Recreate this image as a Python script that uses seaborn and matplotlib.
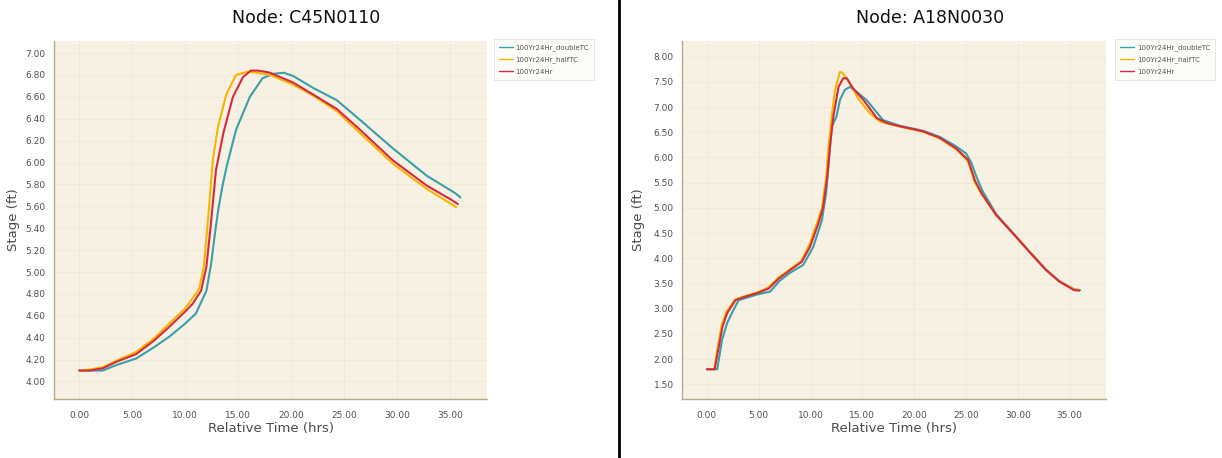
import numpy as np
import pandas as pd
import matplotlib
matplotlib.use("Agg")
import matplotlib.pyplot as plt
from matplotlib.ticker import MultipleLocator, FormatStrFormatter
import seaborn as sns

# ---------------- data ----------------
series_names = ["100Yr24Hr_doubleTC", "100Yr24Hr_halfTC", "100Yr24Hr"]
titles = ["Node: C45N0110", "Node: A18N0030"]

# Left chart (C45N0110)
c45_double_t = [0, 1.0, 2.2, 3.5, 5.36, 7.0, 8.5, 10.0, 11.0, 12.0, 12.45, 12.8, 13.1, 13.5, 13.9, 14.8,
                16.1, 17.3, 18.3, 19.3, 20.2, 22.1, 24.3, 26.5, 29.6, 32.8, 35.5, 36.0]
c45_double_v = [4.10, 4.10, 4.10, 4.15, 4.21, 4.31, 4.41, 4.53, 4.62, 4.83, 5.08, 5.35, 5.56, 5.78, 5.96, 6.30,
                6.60, 6.77, 6.81, 6.82, 6.79, 6.68, 6.57, 6.39, 6.13, 5.88, 5.72, 5.68]

c45_half_t = [0, 1.0, 2.2, 3.5, 5.36, 7.0, 8.5, 10.0, 11.0, 11.35, 11.75, 12.14, 12.6, 13.1, 13.9, 14.8,
              15.9, 16.8, 18.0, 20.2, 22.1, 24.3, 26.5, 29.6, 32.8, 35.3, 35.6]
c45_half_v = [4.10, 4.11, 4.13, 4.19, 4.27, 4.39, 4.53, 4.67, 4.80, 4.86, 5.05, 5.47, 6.02, 6.33, 6.63, 6.80,
              6.83, 6.82, 6.80, 6.71, 6.61, 6.47, 6.27, 5.99, 5.76, 5.61, 5.59]

c45_base_t = [0, 1.0, 2.2, 3.5, 5.36, 7.0, 8.5, 10.0, 10.7, 11.5, 12.0, 12.45, 12.9, 13.6, 14.5, 15.45,
              16.2, 16.8, 17.5, 18.0, 20.2, 22.1, 24.3, 26.5, 29.6, 32.8, 35.3, 35.75]
c45_base_v = [4.10, 4.10, 4.12, 4.18, 4.25, 4.37, 4.50, 4.64, 4.71, 4.83, 5.05, 5.47, 5.93, 6.27, 6.60, 6.78,
              6.84, 6.84, 6.83, 6.82, 6.73, 6.62, 6.49, 6.30, 6.02, 5.79, 5.65, 5.62]

# Right chart (A18N0030)
a18_double_t = [0, 1.0, 1.46, 1.94, 2.5, 3.06, 4.8, 6.1, 7.0, 8.0, 9.3, 10.27, 11.1, 11.5, 11.8, 12.04,
                12.5, 12.84, 13.3, 13.8, 14.4, 15.4, 16.2, 17.0, 18.6, 20.85, 22.45, 24.05, 25.0, 25.5,
                26.0, 26.6, 27.9, 29.5, 31.1, 32.7, 34.0, 35.4, 36.0]
a18_double_v = [1.80, 1.80, 2.38, 2.71, 2.95, 3.17, 3.28, 3.34, 3.55, 3.71, 3.87, 4.23, 4.76, 5.29, 6.00, 6.61,
                6.81, 7.14, 7.34, 7.40, 7.31, 7.14, 6.94, 6.74, 6.63, 6.53, 6.41, 6.22, 6.08, 5.90,
                5.62, 5.33, 4.88, 4.51, 4.14, 3.78, 3.55, 3.39, 3.37]

a18_half_t = [0, 0.7, 1.1, 1.45, 1.9, 2.7, 3.5, 4.8, 5.9, 6.9, 8.0, 9.1, 9.9, 10.7, 11.1, 11.5, 11.7,
              12.04, 12.36, 12.84, 13.15, 13.8, 14.6, 15.7, 16.7, 18.6, 20.85, 22.45, 24.05, 25.2, 25.8,
              26.46, 27.9, 29.5, 31.1, 32.7, 34.0, 35.4, 35.9]
a18_half_v = [1.80, 1.80, 2.30, 2.70, 2.95, 3.18, 3.24, 3.32, 3.42, 3.62, 3.78, 3.95, 4.28, 4.75, 5.00, 5.60, 6.15,
              6.81, 7.34, 7.70, 7.67, 7.47, 7.17, 6.88, 6.71, 6.61, 6.51, 6.38, 6.16, 5.92, 5.52,
              5.28, 4.86, 4.50, 4.13, 3.77, 3.54, 3.39, 3.36]

a18_base_t = [0, 0.75, 1.15, 1.5, 1.95, 2.75, 3.55, 4.85, 5.95, 6.95, 8.05, 9.15, 9.95, 10.75, 11.2, 11.6,
              11.9, 12.2, 12.7, 13.15, 13.5, 14.1, 15.1, 16.4, 17.4, 18.6, 20.85, 22.45, 24.05, 25.2,
              25.85, 26.5, 27.9, 29.5, 31.1, 32.7, 34.0, 35.4, 35.9]
a18_base_v = [1.80, 1.80, 2.25, 2.64, 2.91, 3.17, 3.23, 3.31, 3.40, 3.60, 3.77, 3.93, 4.23, 4.69, 5.00, 5.60,
              6.28, 6.81, 7.40, 7.57, 7.57, 7.37, 7.14, 6.78, 6.68, 6.62, 6.52, 6.39, 6.18, 5.95,
              5.55, 5.29, 4.86, 4.50, 4.13, 3.77, 3.54, 3.37, 3.36]

left_yticks = [4.0, 4.2, 4.4, 4.6, 4.8, 5.0, 5.2, 5.4, 5.6, 5.8, 6.0, 6.2, 6.4, 6.6, 6.8, 7.0]
right_yticks = [1.5, 2.0, 2.5, 3.0, 3.5, 4.0, 4.5, 5.0, 5.5, 6.0, 6.5, 7.0, 7.5, 8.0]
xticks = [0, 5, 10, 15, 20, 25, 30, 35]

palette = {"100Yr24Hr_doubleTC": "#3a9eab", "100Yr24Hr_halfTC": "#f7b500", "100Yr24Hr": "#d42b3f"}


def make_df(triples):
    frames = []
    for name, t, v in triples:
        frames.append(pd.DataFrame({"time": t, "stage": v, "run": name}))
    return pd.concat(frames, ignore_index=True)


df_left = make_df([(series_names[0], c45_double_t, c45_double_v),
                   (series_names[1], c45_half_t, c45_half_v),
                   (series_names[2], c45_base_t, c45_base_v)])
df_right = make_df([(series_names[0], a18_double_t, a18_double_v),
                    (series_names[1], a18_half_t, a18_half_v),
                    (series_names[2], a18_base_t, a18_base_v)])

sns.set_style("white")
plt.rcParams["font.family"] = ["DejaVu Sans"]

fig = plt.figure(figsize=(12.22, 4.58), dpi=100)
fig.patch.set_facecolor("white")

W, H = 1222.0, 458.0
ax1 = fig.add_axes([54 / W, 1 - 399 / H, (487 - 54) / W, (399 - 41) / H])
ax2 = fig.add_axes([682 / W, 1 - 399 / H, (1106 - 682) / W, (399 - 41) / H])

spine_col = "#b3ab86"
bg_col = "#f7f1e3"


def style(ax, df, ylim, yticks, yminor, legx, ylabelpad):
    ax.set_facecolor(bg_col)
    sns.lineplot(data=df, x="time", y="stage", hue="run", hue_order=series_names,
                 palette=palette, estimator=None, sort=False, linewidth=1.5, ax=ax)
    ax.set_xlim(-2.4, 38.5)
    ax.set_ylim(*ylim)
    ax.set_xticks(xticks)
    ax.set_yticks(yticks)
    ax.xaxis.set_minor_locator(MultipleLocator(1.0))
    ax.yaxis.set_minor_locator(MultipleLocator(yminor))
    ax.xaxis.set_major_formatter(FormatStrFormatter("%.2f"))
    ax.yaxis.set_major_formatter(FormatStrFormatter("%.2f"))
    for s in ["top", "right"]:
        ax.spines[s].set_visible(False)
    for s in ["left", "bottom"]:
        ax.spines[s].set_color(spine_col)
        ax.spines[s].set_linewidth(1.0)
    ax.tick_params(axis="both", which="major", direction="out", length=3, width=0.8,
                   color="#8f8f8f", labelsize=6.5, labelcolor="#505050", pad=3)
    ax.tick_params(axis="x", which="major", pad=6)
    ax.tick_params(axis="both", which="minor", direction="out", length=2, width=0.6,
                   color="#a8a8a8")
    ax.grid(True, which="major", color="#efe8d6", linewidth=0.6)
    ax.set_axisbelow(True)
    ax.set_xlabel("Relative Time (hrs)", fontsize=9.5, color="#4a4a4a", labelpad=1)
    ax.set_ylabel("Stage (ft)", fontsize=9.5, color="#4a4a4a", labelpad=ylabelpad)
    leg = ax.legend(loc="upper left", bbox_to_anchor=(legx, 1.005), fontsize=5,
                    frameon=True, fancybox=False, handlelength=2.0, handletextpad=0.4,
                    labelspacing=0.8, borderpad=0.7, borderaxespad=0.0, title=None)
    leg.get_frame().set_edgecolor("#dddddd")
    leg.get_frame().set_linewidth(0.6)
    leg.get_frame().set_facecolor("#fbfaf7")
    for txt in leg.get_texts():
        txt.set_color("#555555")
    for line in leg.get_lines():
        line.set_linewidth(1.0)


style(ax1, df_left, (3.84, 7.11), left_yticks, 0.05, 1.016, 4)
style(ax2, df_right, (1.21, 8.31), right_yticks, 0.1, 1.022, 6)

fig.text(306 / W, 1 - 18 / H, titles[0], ha="center", va="center", fontsize=12.5, color="#111111")
fig.text(930 / W, 1 - 18 / H, titles[1], ha="center", va="center", fontsize=12.5, color="#111111")

# separator between the two panels
fig.add_artist(plt.Line2D([619 / W, 619 / W], [0, 1], transform=fig.transFigure,
                          color="black", linewidth=2))

fig.savefig("out.png", dpi=100, facecolor="white")
